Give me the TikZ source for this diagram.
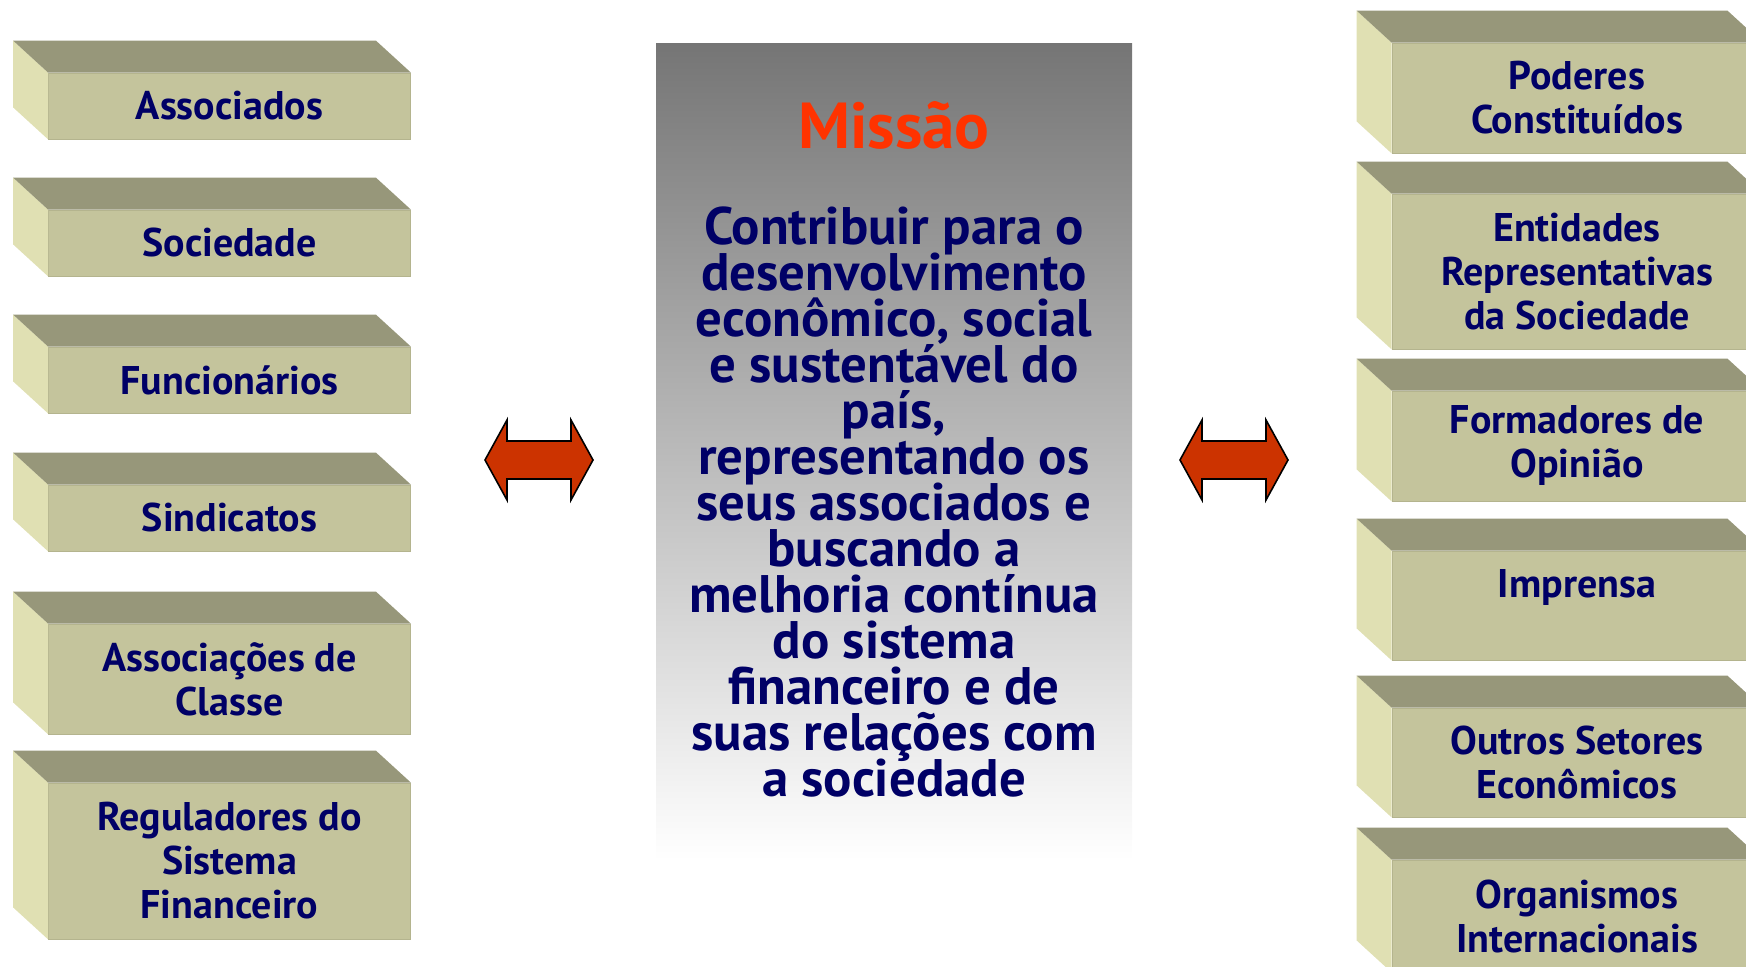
\documentclass[tikz,border=0pt]{standalone}
\usepackage{fontspec}
\setmainfont{PT Sans}
\usetikzlibrary{positioning}
\definecolor{frontC}{HTML}{C4C49C}
\definecolor{topC}{HTML}{97977A}
\definecolor{sideC}{HTML}{E0E0B3}
\definecolor{edgeC}{HTML}{B4B48E}
\definecolor{navyC}{HTML}{000066}
\definecolor{redC}{HTML}{FF3300}
\definecolor{arrowC}{HTML}{CC3300}
\newcommand{\tightlines}{\lineskiplimit=-20pt\relax}
\tikzset{
  block/.style={rectangle, fill=frontC, draw=edgeC, line width=0.4pt, text=navyC,
    font=\bfseries\fontsize{20}{22}\selectfont\tightlines, align=center, inner sep=0pt},
  sideFace/.style={fill=sideC},
  topFace/.style={fill=topC},
  missionBox/.style={rectangle, top color=black!54, bottom color=white, inner sep=0pt},
  dblArrow/.style={draw=black, line width=0.8pt, fill=arrowC, line join=miter}
}
% top and side of a block, drawn from the front face
\newcommand{\faces}[1]{%
  \fill[sideFace] (#1.north west) -- ++(-35,-32) -- ([shift={(-35,-32)}]#1.south west) -- (#1.south west) -- cycle;
  \fill[topFace] (#1.north west) -- ++(-35,-32) -- ([shift={(-35,-32)}]#1.north east) -- (#1.north east) -- cycle;}

\begin{document}
\begin{tikzpicture}[x=0.5pt, y=-0.5pt]
  \useasboundingbox (0,0) rectangle (1746,967);
  % left column
  \foreach \nm/\cy/\hh/\txt in {assoc/106/33/{Associados}, socied/243/33/{Sociedade},
      func/380/33/{Funcionários}, sind/518/33/{Sindicatos},
      classe/679/55/{Associações de\\Classe}, regul/861/78/{Reguladores do\\Sistema\\Financeiro}} {
    \node[block, minimum width=181pt, minimum height=\hh pt] (\nm) at (229.5,\cy) {\txt};
    \faces{\nm}
  }
  % right column
  \foreach \nm/\cy/\hh/\txt in {poder/98/55/{Poderes\\Constituídos},
      entid/271.5/77.5/{Entidades\\Representativas\\da Sociedade},
      opin/446/55/{Formadores de\\Opinião}, impr/605.5/54.5/{Imprensa\\\mbox{}},
      setor/762.5/54.5/{Outros Setores\\Econômicos}, intl/916/56/{Organismos\\Internacionais}} {
    \node[block, minimum width=185pt, minimum height=\hh pt] (\nm) at (1577,\cy) {\txt};
    \faces{\nm}
  }
  % mission
  \node[missionBox, minimum width=238pt, minimum height=408pt] (mission) at (894,452) {};
  \node[text=redC, font=\bfseries\fontsize{32.5}{32}\selectfont] (title) at (894,125) {Missão};
  \node[text=navyC, font=\bfseries\fontsize{26.4}{23}\selectfont\tightlines, align=center] (body) at (894,502.5)
    {Contribuir para o\\desenvolvimento\\econômico, social\\e sustentável do\\país,\\representando os\\seus associados e\\buscando a\\melhoria contínua\\do sistema\\financeiro e de\\suas relações com\\a sociedade};
  % arrows
  \coordinate (larr) at (539,460);
  \coordinate (rarr) at (1234,460);
  \foreach \a in {larr, rarr}
    \draw[dblArrow] (\a) ++(-54,0) -- ++(22,-40) -- ++(0,21) -- ++(64,0) -- ++(0,-21)
      -- ++(22,40) -- ++(-22,40) -- ++(0,-21) -- ++(-64,0) -- ++(0,21) -- cycle;
\end{tikzpicture}
\end{document}
